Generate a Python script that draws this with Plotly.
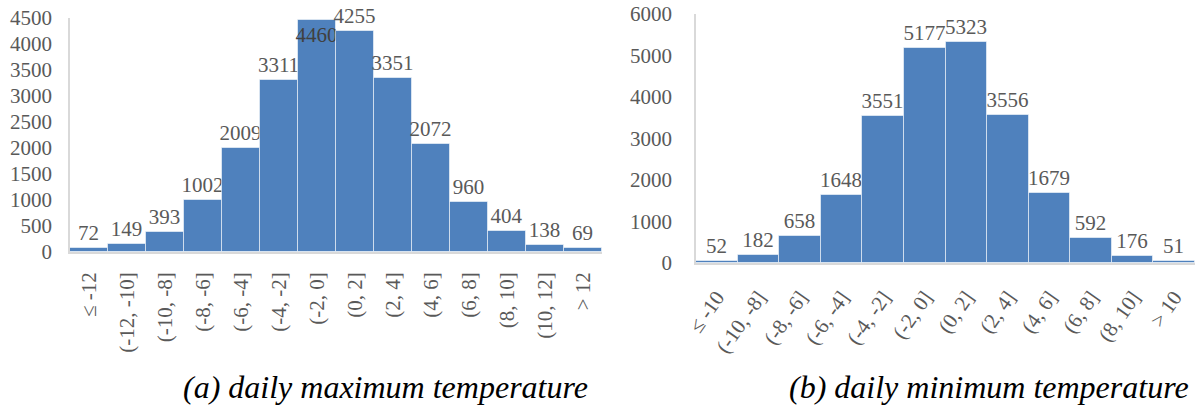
import plotly.graph_objects as go

# ---- data ----
max_categories = ["≤ -12", "(-12, -10]", "(-10, -8]", "(-8, -6]", "(-6, -4]", "(-4, -2]",
                  "(-2, 0]", "(0, 2]", "(2, 4]", "(4, 6]", "(6, 8]", "(8, 10]", "(10, 12]", "> 12"]
max_counts = [72, 149, 393, 1002, 2009, 3311, 4460, 4255, 3351, 2072, 960, 404, 138, 69]

min_categories = ["≤ -10", "(-10, -8]", "(-8, -6]", "(-6, -4]", "(-4, -2]", "(-2, 0]",
                  "(0, 2]", "(2, 4]", "(4, 6]", "(6, 8]", "(8, 10]", "> 10"]
min_counts = [52, 182, 658, 1648, 3551, 5177, 5323, 3556, 1679, 592, 176, 51]

max_ticks = list(range(0, 4501, 500))
min_ticks = list(range(0, 6001, 1000))

caption_a = "(a) daily maximum temperature"
caption_b = "(b) daily minimum temperature"

# ---- style ----
FONT = "Liberation Serif"
BAR = "#4F81BD"
TXT = "#595959"
AXIS = "#D9D9D9"
FS = 21

fig = go.Figure()

for cats, vals, ticks, xa, ya in [(max_categories, max_counts, max_ticks, "x", "y"),
                                  (min_categories, min_counts, min_ticks, "x2", "y2")]:
    top = ticks[-1]
    # labels that would not fit above the plot area are drawn just inside the bar top
    positions = ["inside" if v > 0.97 * top else "outside" for v in vals]
    fig.add_trace(go.Bar(
        x=cats, y=vals, text=[str(v) for v in vals],
        textposition=positions, insidetextanchor="end", textangle=0,
        constraintext="none", cliponaxis=False,
        textfont=dict(family=FONT, size=FS, color=TXT),
        insidetextfont=dict(family=FONT, size=FS, color="#404040"),
        marker=dict(color=BAR, line=dict(color="rgba(255,255,255,0.55)", width=1)),
        xaxis=xa, yaxis=ya, showlegend=False, hoverinfo="x+y",
    ))

W, H = 1195, 408

def px_x(p):
    return p / W

def px_y(p):
    return (H - p) / H

common = dict(showgrid=False, zeroline=False, showline=True, linecolor=AXIS, linewidth=1.5,
              ticks="", tickfont=dict(family=FONT, size=FS, color=TXT), fixedrange=True,
              automargin=False)

fig.update_layout(
    width=W, height=H,
    margin=dict(l=0, r=0, t=0, b=0, autoexpand=False),
    paper_bgcolor="white", plot_bgcolor="white",
    bargap=0,
    font=dict(family=FONT, color=TXT),
    xaxis=dict(domain=[px_x(70), px_x(602)], anchor="y", tickangle=-90,
               ticklabelstandoff=10, **common),
    yaxis=dict(domain=[px_y(252), px_y(18)], anchor="x", range=[0, 4500],
               tickvals=max_ticks, ticklabelstandoff=12, **common),
    xaxis2=dict(domain=[px_x(696), 1.0], anchor="y2", tickangle=-55,
                ticklabelstandoff=12, **common),
    yaxis2=dict(domain=[px_y(263), px_y(14)], anchor="x2", range=[0, 6000],
                tickvals=min_ticks, ticklabelstandoff=18, **common),
    annotations=[
        dict(text="<i>" + caption_a + "</i>", xref="paper", yref="paper",
             x=px_x(385), y=px_y(387), xanchor="center", yanchor="middle", showarrow=False,
             font=dict(family=FONT, size=32, color="#000000")),
        dict(text="<i>" + caption_b + "</i>", xref="paper", yref="paper",
             x=px_x(989), y=px_y(387), xanchor="center", yanchor="middle", showarrow=False,
             font=dict(family=FONT, size=32, color="#000000")),
    ],
)

fig.write_html("out.html")
